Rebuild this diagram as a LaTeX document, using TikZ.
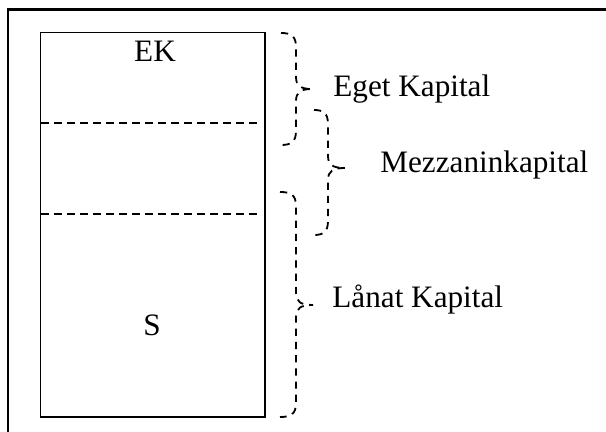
\documentclass[tikz,border=0pt]{standalone}
\usepackage{fontspec}
\setmainfont{Liberation Serif}
\newcommand\mybrace[6]{%
  \draw[bracestyle] (#1,#4) .. controls (#2-5,#4) and (#2,#4+3) .. (#2,#4+14)
    -- (#2,#5-12) .. controls (#2,#5-3) and (#2+5,#5) .. (#3,#5)
    .. controls (#2+5,#5) and (#2,#5+3) .. (#2,#5+12)
    -- (#2,#6-14) .. controls (#2,#6-3) and (#2-5,#6) .. (#1,#6);}
\begin{document}
\begin{tikzpicture}[x=0.5pt,y=-0.5pt,
  frame/.style={line width=1.05pt},
  box/.style={line width=0.95pt},
  sep/.style={line width=0.85pt,dash pattern=on 3.8pt off 2.7pt},
  bracestyle/.style={line width=0.9pt,dash pattern=on 3.6pt off 3pt},
  lbl/.style={inner sep=0pt,font=\fontsize{15.6pt}{18pt}\selectfont}]
\useasboundingbox (0,0) rectangle (606,432);
\fill[white] (0,0) rectangle (606,432);
% outer frame (top and left)
\draw[frame] (8,440) -- (8,9.5) -- (610,9.5);
% inner box
\draw[box] (40.5,32.5) rectangle (265,417);
\draw[sep] (41,123) -- (259,123);
\draw[sep] (41,214) -- (259,214);
\node[lbl,anchor=base] (ek) at (155,62) {EK};
\node[lbl,anchor=base] (s) at (152,336) {S};
% braces
\mybrace{281}{296}{312}{33}{89}{145}
\mybrace{314}{328}{345}{110}{168}{235}
\mybrace{280}{296}{313}{192}{305}{417}
\node[lbl,anchor=base west] (eget) at (333,97) {Eget Kapital};
\node[lbl,anchor=base west] (mezz) at (380,173) {Mezzaninkapital};
\node[lbl,anchor=base west] (lanat) at (332,308) {Lånat Kapital};
\end{tikzpicture}
\end{document}
